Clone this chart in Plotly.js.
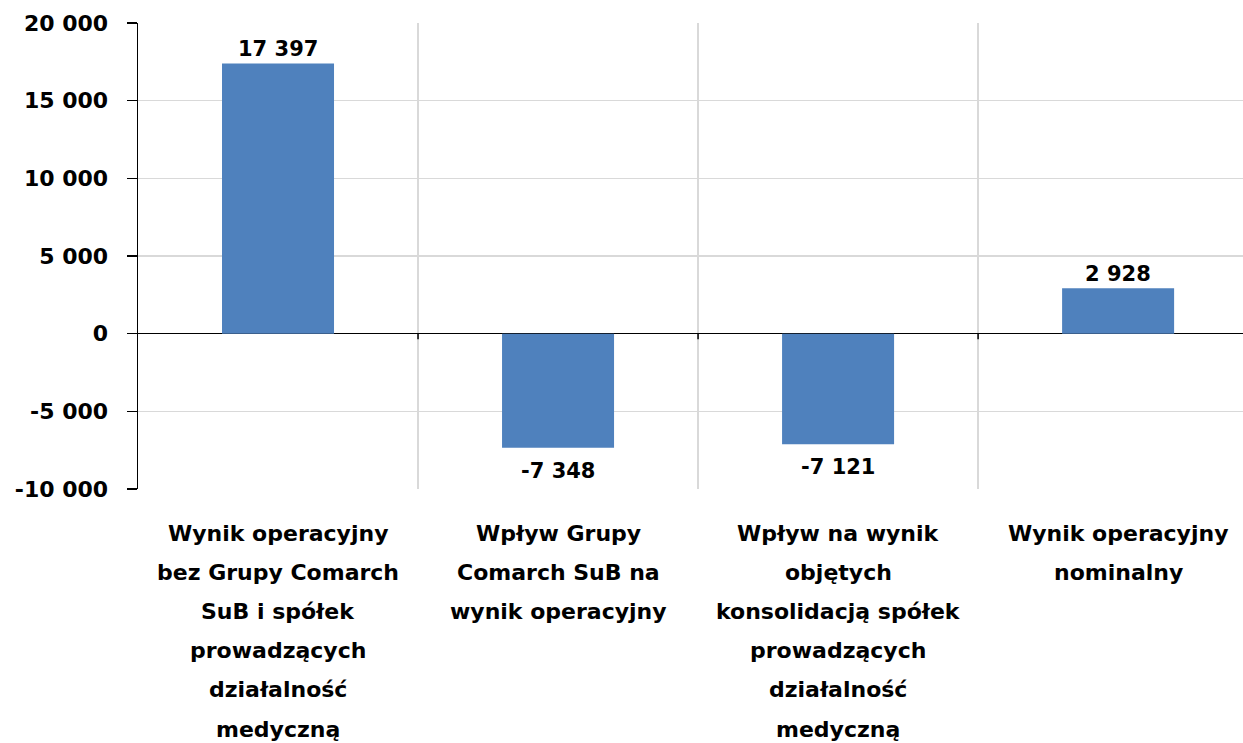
<!DOCTYPE html>
<html>
<head>
<meta charset="utf-8">
<script src="https://cdn.plot.ly/plotly-3.0.1.min.js"></script>
<style>html,body{margin:0;padding:0;background:#fff;}#chart{width:1243px;height:743px;}</style>
</head>
<body>
<div id="chart"></div>
<script>
const categories = [
  "Wynik operacyjny<br>bez Grupy Comarch<br>SuB i spółek<br>prowadzących<br>działalność<br>medyczną",
  "Wpływ Grupy<br>Comarch SuB na<br>wynik operacyjny",
  "Wpływ na wynik<br>objętych<br>konsolidacją spółek<br>prowadzących<br>działalność<br>medyczną",
  "Wynik operacyjny<br>nominalny"
];
const values = [17397, -7348, -7121, 2928];
const yTicks = [-10000, -5000, 0, 5000, 10000, 15000, 20000];

function fmt(v) {
  const s = Math.abs(v).toString().replace(/\B(?=(\d{3})+(?!\d))/g, " ");
  return (v < 0 ? "-" : "") + s;
}

const FONT = "DejaVu Sans, Verdana, sans-serif";

const trace = {
  type: "bar",
  x: categories,
  y: values,
  marker: {color: "#4F81BD", line: {width: 0}},
  hoverinfo: "skip"
};

const zeroFrac = (0 - yTicks[0]) / (yTicks[yTicks.length - 1] - yTicks[0]);
const shapes = categories.slice(0, -1).map((c, i) => ({
  type: "line", xref: "x", yref: "paper",
  x0: i + 0.5, x1: i + 0.5,
  y0: zeroFrac, y1: zeroFrac - 0.012,
  line: {color: "#000", width: 1.5}
}));

const annotations = [];
// data labels
values.forEach((v, i) => {
  annotations.push({
    x: categories[i], y: v, xref: "x", yref: "y",
    text: fmt(v), showarrow: false,
    yanchor: v >= 0 ? "bottom" : "top",
    yshift: v >= 0 ? 0 : -9,
    font: {family: FONT, size: 21, color: "#000", weight: "bold"}
  });
});
// category labels, one line each (wider line spacing than Plotly's default)
categories.forEach((c, i) => {
  c.split("<br>").forEach((line, j) => {
    annotations.push({
      x: c, y: 0, xref: "x", yref: "paper",
      text: line, showarrow: false,
      yanchor: "middle", yshift: -(44 + 39.2 * j),
      font: {family: FONT, size: 22, color: "#000", weight: "bold"}
    });
  });
});

const layout = {
  width: 1243, height: 743,
  margin: {l: 138, r: 0, t: 23, b: 254},
  paper_bgcolor: "#fff", plot_bgcolor: "#fff",
  showlegend: false,
  bargap: 0.6,
  font: {family: FONT, color: "#000"},
  xaxis: {
    type: "category",
    range: [-0.5, 3.446],
    tickson: "boundaries",
    showgrid: true, gridcolor: "#D9D9D9", gridwidth: 1.5,
    ticks: "", showline: false, zeroline: false,
    showticklabels: false
  },
  yaxis: {
    range: [yTicks[0], yTicks[yTicks.length - 1]],
    tickvals: yTicks,
    ticktext: yTicks.map(fmt),
    showgrid: true, gridcolor: "#D9D9D9", gridwidth: 1.5,
    zeroline: true, zerolinecolor: "#000", zerolinewidth: 1.5,
    showline: true, linecolor: "#000", linewidth: 1.5,
    ticks: "outside", ticklen: 10, tickcolor: "#000", tickwidth: 1.5,
    ticklabelstandoff: 14,
    tickfont: {family: FONT, size: 22, color: "#000", weight: "bold"}
  },
  shapes: shapes,
  annotations: annotations
};

Plotly.newPlot("chart", [trace], layout, {displayModeBar: false, staticPlot: true});
</script>
</body>
</html>
